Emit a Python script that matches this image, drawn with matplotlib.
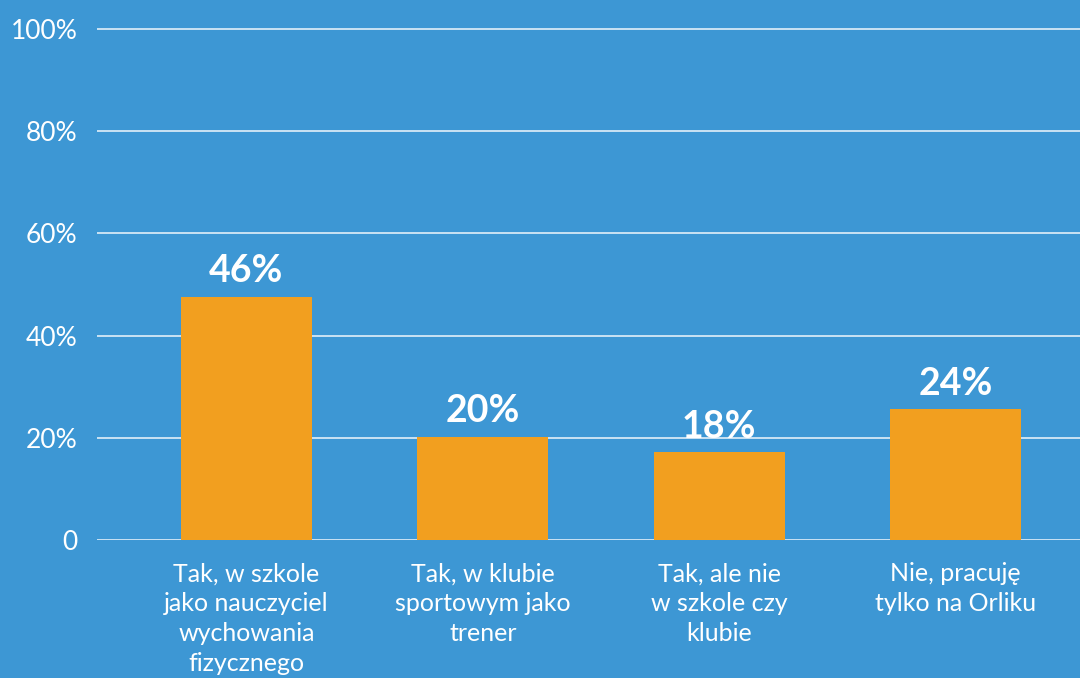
import matplotlib
matplotlib.use('Agg')
import matplotlib.pyplot as plt

categories = ["Tak, w szkole\njako nauczyciel\nwychowania\nfizycznego",
              "Tak, w klubie\nsportowym jako\ntrener",
              "Tak, ale nie\nw szkole czy\nklubie",
              "Nie, pracuję\ntylko na Orliku"]
heights = [47.6, 20.2, 17.2, 25.6]
value_labels = ["46%", "20%", "18%", "24%"]
yticks = [0, 20, 40, 60, 80, 100]
ytick_labels = ["0", "20%", "40%", "60%", "80%", "100%"]

bg = "#3d97d4"
bar_color = "#f29f1f"

plt.rcParams['font.family'] = ['Lato', 'DejaVu Sans']

fig = plt.figure(figsize=(10.8, 6.78), dpi=100, facecolor=bg)
ax = fig.add_axes([97 / 1080, 1 - 540 / 678, 1 - 97 / 1080, (540 - 23.9) / 678])
ax.set_facecolor(bg)

x = list(range(len(categories)))
bars = ax.bar(x, heights, width=0.554, color=bar_color, zorder=3)

for b, lab in zip(bars, value_labels):
    ax.annotate(lab, (b.get_x() + b.get_width() / 2, b.get_height()),
                xytext=(0, 6), textcoords='offset points',
                ha='center', va='bottom', color='white',
                fontsize=27, fontweight='bold')

ax.set_xlim(-0.632, 3.526)
ax.set_ylim(0, 101)
ax.set_yticks(yticks)
ax.set_yticklabels(ytick_labels)
ax.set_xticks(x)
ax.set_xticklabels(categories, linespacing=1.36)

ax.grid(axis='y', color='white', linewidth=1.2, alpha=0.85, zorder=0)
ax.set_axisbelow(True)
for s in ax.spines.values():
    s.set_visible(False)

ax.tick_params(axis='y', length=0, pad=14, labelsize=19, labelcolor='white')
ax.tick_params(axis='x', length=0, pad=16, labelsize=18, labelcolor='white')

fig.savefig("out.png", dpi=100, facecolor=bg)
